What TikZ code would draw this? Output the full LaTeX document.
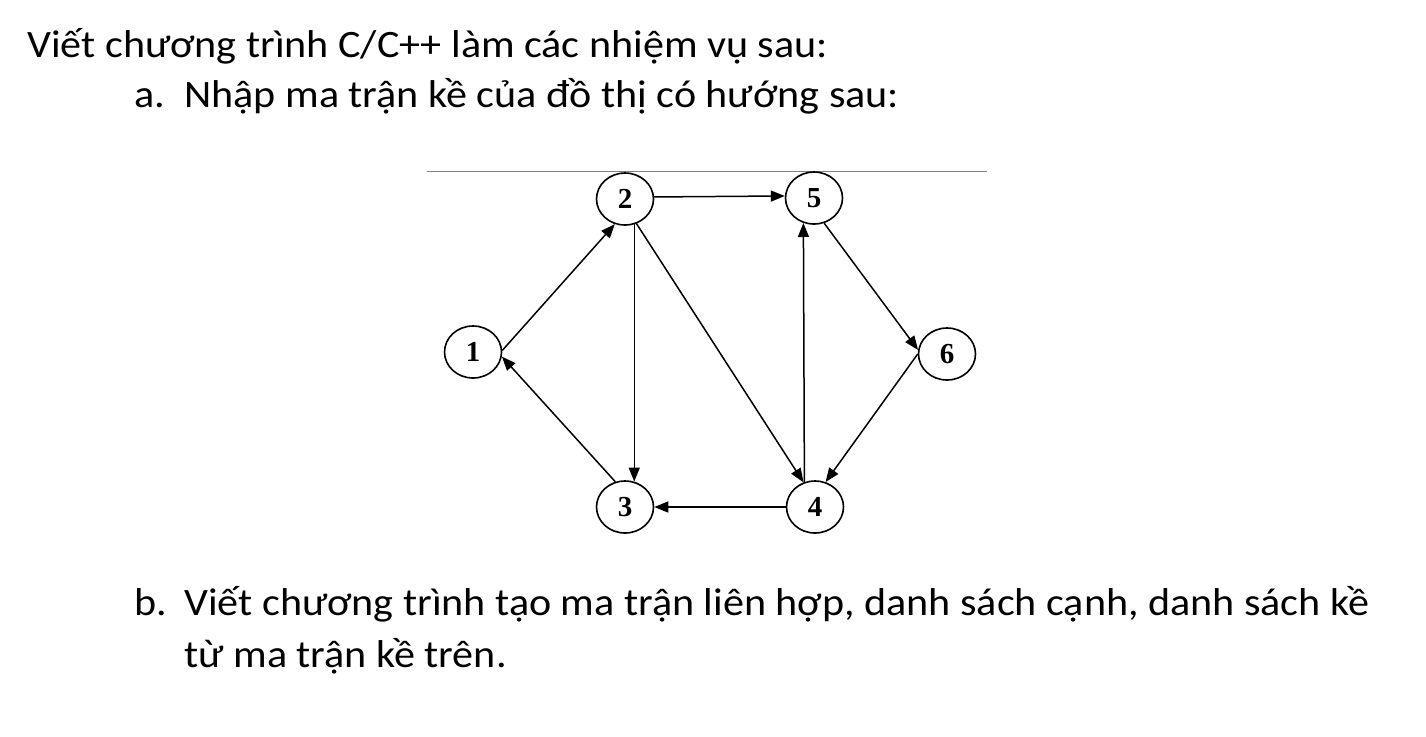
\documentclass[tikz,border=0pt]{standalone}
\usepackage{fontspec}
\setmainfont{Carlito}[FakeStretch = 1.085]
\newfontfamily\nodefont{Liberation Serif}
\usetikzlibrary{arrows.meta}
\usetikzlibrary{shapes.geometric}
\tikzset{txt/.style = {anchor = base west, inner sep = 0, font = \fontsize{19.4}{23}\selectfont}}
\tikzset{vert/.style = {draw, ellipse, line width = 0.8pt, minimum width = 28.5pt, minimum height = 26pt,
                        inner sep = 0, font = \nodefont\bfseries\fontsize{14.5}{14.5}\selectfont}}
\tikzset{arr/.style = {-{Triangle[length = 7pt, width = 5.5pt]}, line width = 0.75pt}}

\begin{document}
\begin{tikzpicture}[x = 0.5pt, y = -0.5pt]
    \useasboundingbox (0, 0) rectangle (1426, 736);

    \node [txt] (title) at (27, 57) {Viết chương trình C/C++ làm các nhiệm vụ sau:};
    \node [txt] (lbla) at (134, 107) {a.};
    \node [txt] (texta) at (184, 107) {Nhập ma trận kề của đồ thị có hướng sau:};
    \node [txt] (lblb) at (134, 615) {b.};
    \node [txt] (textb) at (184, 615) {Viết chương trình tạo ma trận liên hợp, danh sách cạnh, danh sách kề};
    \node [txt] (textc) at (184, 667) {từ ma trận kề trên.};

    \draw [gray, line width = 0.5pt] (427, 171) -- (987, 171);

    \node [vert] (n1) at (473, 352) {1};
    \node [vert] (n2) at (625, 199) {2};
    \node [vert] (n5) at (814, 198) {5};
    \node [vert] (n6) at (947, 354) {6};
    \node [vert] (n3) at (625, 507) {3};
    \node [vert] (n4) at (815, 507) {4};

    \draw [arr] (n1.3) -- (n2.248);
    \draw [arr] (n2.4) -- (n5.176);
    \draw [arr] (n2.290) -- (n3.70);
    \draw [arr] (n2.295) -- (n4.115);
    \draw [arr] (n5.292) -- (n6.172);
    \draw [arr] (n6.180) -- (n4.67);
    \draw [arr] (n4.113) -- (n5.247);
    \draw [arr] (n4.180) -- (n3.0);
    \draw [arr] (n3.111) -- (n1.351);
\end{tikzpicture}
\end{document}
